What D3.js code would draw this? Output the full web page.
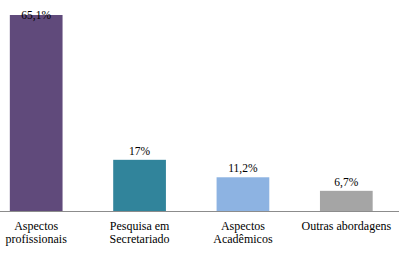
<!DOCTYPE html>
<html>
<head>
<meta charset="utf-8">
<script src="https://cdn.jsdelivr.net/npm/d3@7"></script>
<style>
  body { margin: 0; background: #fff; }
  svg { display: block; font-family: "Liberation Serif", "Times New Roman", serif; }
</style>
</head>
<body>
<div id="chart"></div>
<script>
const categories = [['Aspectos', 'profissionais'], ['Pesquisa em', 'Secretariado'], ['Aspectos', 'Acadêmicos'], ['Outras abordagens']]
const values = [65.1, 17, 11.2, 6.7]
const valueLabels = ['65,1%', '17%', '11,2%', '6,7%']
const colors = ['#604a7b', '#31849b', '#8db3e2', '#a5a5a5']

const width = 412
const height = 263
const baseY = 211

const svg = d3.select('#chart').append('svg')
  .attr('width', width)
  .attr('height', height)

const x = d3.scaleBand()
  .domain(d3.range(values.length))
  .range([-15.5, 398])
  .paddingInner(0.49)
  .paddingOuter(0.245)

const y = d3.scaleLinear()
  .domain([0, d3.max(values)])
  .range([baseY, 15])

svg.selectAll('rect.bar')
  .data(values)
  .enter()
  .append('rect')
  .attr('class', 'bar')
  .attr('x', (d, i) => x(i))
  .attr('y', d => y(d))
  .attr('width', x.bandwidth())
  .attr('height', d => baseY - y(d))
  .attr('fill', (d, i) => colors[i])

// axis line
svg.append('line')
  .attr('x1', 0)
  .attr('x2', 399)
  .attr('y1', baseY + 0.5)
  .attr('y2', baseY + 0.5)
  .attr('stroke', '#8c8c8c')
  .attr('stroke-width', 1.2)

svg.selectAll('text.val')
  .data(values)
  .enter()
  .append('text')
  .attr('class', 'val')
  .attr('x', (d, i) => x(i) + x.bandwidth() / 2)
  .attr('y', d => Math.max(y(d) - 5, 19))
  .attr('text-anchor', 'middle')
  .attr('font-size', 11.5)
  .attr('fill', '#000')
  .text((d, i) => valueLabels[i])

const labels = svg.selectAll('text.cat')
  .data(categories)
  .enter()
  .append('text')
  .attr('class', 'cat')
  .attr('x', (d, i) => x(i) + x.bandwidth() / 2)
  .attr('y', 230)
  .attr('text-anchor', 'middle')
  .attr('font-size', 12)
  .attr('fill', '#000')

labels.selectAll('tspan')
  .data(d => d)
  .enter()
  .append('tspan')
  .attr('x', function () { return d3.select(this.parentNode).attr('x') })
  .attr('dy', (d, i) => i === 0 ? 0 : 12.5)
  .text(d => d)
</script>
</body>
</html>
